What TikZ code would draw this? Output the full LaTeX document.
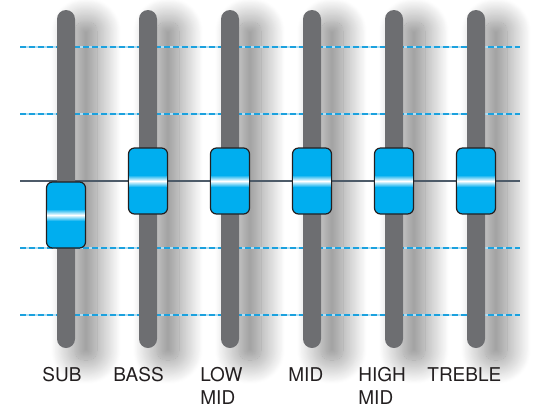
\documentclass[tikz,border=0pt]{standalone}
\usepackage{fontspec}
\setmainfont{TeX Gyre Heros}
\usepackage{xcolor}
\usetikzlibrary{shadows.blur}
\definecolor{trackgray}{HTML}{6D6E71}
\definecolor{knobblue}{HTML}{00AEEF}
\definecolor{guideblue}{HTML}{1BA1DE}
\definecolor{zeroline}{HTML}{4D5B69}
\definecolor{labeltext}{HTML}{231F20}

\begin{document}
\begin{tikzpicture}[x=0.5pt, y=-0.5pt,
  track/.style={fill=trackgray, rounded corners=4.5pt},
  trackshadow/.style={rounded corners=4.5pt,
    blur shadow={shadow xshift=9pt, shadow yshift=-6pt,
      shadow blur radius=12pt, shadow blur steps=30,
      shadow opacity=50}},
  guidegap/.style={guideblue!35, line width=0.75pt},
  guide/.style={guideblue, line width=0.75pt, dash pattern=on 3pt off 1.5pt},
  zero/.style={zeroline, line width=0.8pt},
  knob/.style={draw=labeltext, fill=knobblue, line width=0.6pt,
    rounded corners=3pt, minimum width=19.5pt, minimum height=33pt,
    inner sep=0pt},
  band/.style={top color=knobblue, bottom color=knobblue, middle color=white},
  bandlabel/.style={font=\fontsize{9.5}{11.5}\selectfont, text=labeltext,
    align=left, anchor=north west, inner sep=0pt},
]
\useasboundingbox (0,0) rectangle (535,409);

% Shadows behind the tracks
\foreach \cx in {66,148,230,312,394,476}
  \path[trackshadow] (\cx-9,10) rectangle (\cx+13,348);

% Guide lines
\foreach \gy in {47,114,248,315} {
  \draw[guidegap] (20,\gy) -- (520,\gy);
  \draw[guide] (20,\gy) -- (520,\gy);
}
\draw[zero] (20,181) -- (520,181);

% Sliders
\foreach \cx/\ky/\name/\lx/\txt in {
    66/215/sub/42/SUB,
    148/181/bass/113/BASS,
    230/181/lowmid/200/{LOW\\MID},
    312/181/mid/288/MID,
    394/181/highmid/358/{HIGH\\MID},
    476/181/treble/427/TREBLE} {
  \fill[track] (\cx-9,10) rectangle (\cx+9,348);
  \node[knob] (knob-\name) at (\cx,\ky) {};
  \shade[band] (\cx-18.3,\ky-6) rectangle (\cx+18.3,\ky+6);
  \node[bandlabel] (label-\name) at (\lx,367) {\txt};
}
\end{tikzpicture}
\end{document}
